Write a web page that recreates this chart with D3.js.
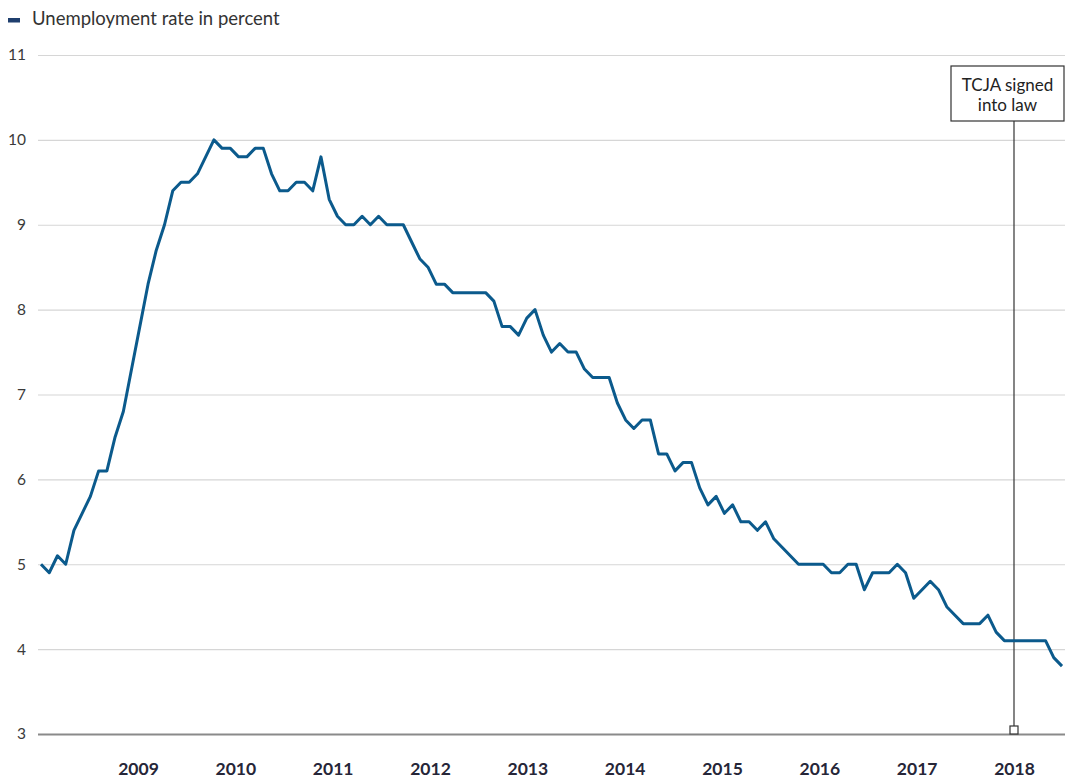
<!DOCTYPE html>
<html>
<head>
<meta charset="utf-8">
<script src="https://cdn.jsdelivr.net/npm/d3@7"></script>
<style>
  body { margin: 0; background: #fff; }
  svg { display: block; font-family: Lato, "Open Sans", sans-serif; }
</style>
</head>
<body>
<div id="chart"></div>
<script>
// monthly unemployment rate, Jan 2008 - May 2018
var rate2008 = [5.0,4.9,5.1,5.0,5.4,5.6,5.8,6.1,6.1,6.5,6.8,7.3]
var rate2009 = [7.8,8.3,8.7,9.0,9.4,9.5,9.5,9.6,9.8,10.0,9.9,9.9]
var rate2010 = [9.8,9.8,9.9,9.9,9.6,9.4,9.4,9.5,9.5,9.4,9.8,9.3]
var rate2011 = [9.1,9.0,9.0,9.1,9.0,9.1,9.0,9.0,9.0,8.8,8.6,8.5]
var rate2012 = [8.3,8.3,8.2,8.2,8.2,8.2,8.2,8.1,7.8,7.8,7.7,7.9]
var rate2013 = [8.0,7.7,7.5,7.6,7.5,7.5,7.3,7.2,7.2,7.2,6.9,6.7]
var rate2014 = [6.6,6.7,6.7,6.3,6.3,6.1,6.2,6.2,5.9,5.7,5.8,5.6]
var rate2015 = [5.7,5.5,5.5,5.4,5.5,5.3,5.2,5.1,5.0,5.0,5.0,5.0]
var rate2016 = [4.9,4.9,5.0,5.0,4.7,4.9,4.9,4.9,5.0,4.9,4.6,4.7]
var rate2017 = [4.8,4.7,4.5,4.4,4.3,4.3,4.3,4.4,4.2,4.1,4.1,4.1]
var rate2018 = [4.1,4.1,4.1,3.9,3.8]

var yearLabels = [2009,2010,2011,2012,2013,2014,2015,2016,2017,2018]
var yTicks = [3,4,5,6,7,8,9,10,11]
var tcjaYear = 2018
var tcjaText = ["TCJA signed","into law"]
var legendText = "Unemployment rate in percent"

var rates = [].concat(rate2008,rate2009,rate2010,rate2011,rate2012,rate2013,
                      rate2014,rate2015,rate2016,rate2017,rate2018)

var w = 1065, h = 779
var left = 38
var lineColor = "#0b5a8c"

var svg = d3.select("#chart").append("svg").attr("width",w).attr("height",h)

var x = d3.scaleLinear().domain([0,rates.length-1]).range([41,1062])
var xYear = d3.scaleLinear().domain([2009,2018]).range([138,1014])
var y = d3.scaleLinear().domain([3,11]).range([734,55])

// gridlines + y labels
var yAxis = svg.append("g")
  .attr("transform","translate("+left+",0)")
  .call(d3.axisLeft(y).tickValues(yTicks).tickSize(-(w-left)).tickPadding(12))
yAxis.select(".domain").remove()
yAxis.selectAll(".tick line").attr("stroke","#d6d6d6").attr("stroke-width",1.2)
yAxis.selectAll(".tick").filter(function(d){return d==3}).select("line")
  .attr("stroke","#8a8a8a").attr("stroke-width",2)
yAxis.selectAll(".tick text")
  .attr("fill","#3a3a3a").style("font-size","15.5px").style("font-family","Lato, sans-serif")

// year labels
var xAxis = svg.append("g")
  .attr("transform","translate(0,763)")
  .call(d3.axisBottom(xYear).tickValues(yearLabels).tickFormat(d3.format("d")).tickSize(0).tickPadding(0))
xAxis.select(".domain").remove()
xAxis.selectAll(".tick text")
  .attr("fill","#262638").style("font-size","17.5px").style("font-weight","bold")
  .style("font-family","Lato, sans-serif")

// annotation
var tx = xYear(tcjaYear)
svg.append("line")
  .attr("x1",tx).attr("x2",tx).attr("y1",121).attr("y2",730)
  .attr("stroke","#333").attr("stroke-width",1.2)
svg.append("rect")
  .attr("x",tx-4).attr("y",726).attr("width",8).attr("height",8)
  .attr("fill","#fff").attr("stroke","#333").attr("stroke-width",1.2)

// the series
var line = d3.line()
  .x(function(d,i){ return x(i) })
  .y(function(d){ return y(d) })
svg.append("path")
  .datum(rates)
  .attr("d",line)
  .attr("fill","none")
  .attr("stroke",lineColor)
  .attr("stroke-width",3)
  .attr("stroke-linejoin","round")

svg.append("rect")
  .attr("x",951).attr("y",66).attr("width",113).attr("height",55)
  .attr("fill","#fff").attr("stroke","#333").attr("stroke-width",1.2)
svg.selectAll(".tcja")
  .data(tcjaText)
  .enter()
  .append("text")
  .attr("class","tcja")
  .attr("x",1007.5)
  .attr("y",function(d,i){ return 91 + i*20 })
  .attr("text-anchor","middle")
  .attr("fill","#222")
  .style("font-size","17px")
  .text(function(d){ return d })

// legend
svg.append("rect")
  .attr("x",8).attr("y",18).attr("width",12).attr("height",4.5)
  .attr("fill","#1f3f6e")
svg.append("text")
  .attr("x",32).attr("y",25)
  .attr("fill","#333")
  .style("font-size","18.5px")
  .text(legendText)
</script>
</body>
</html>
